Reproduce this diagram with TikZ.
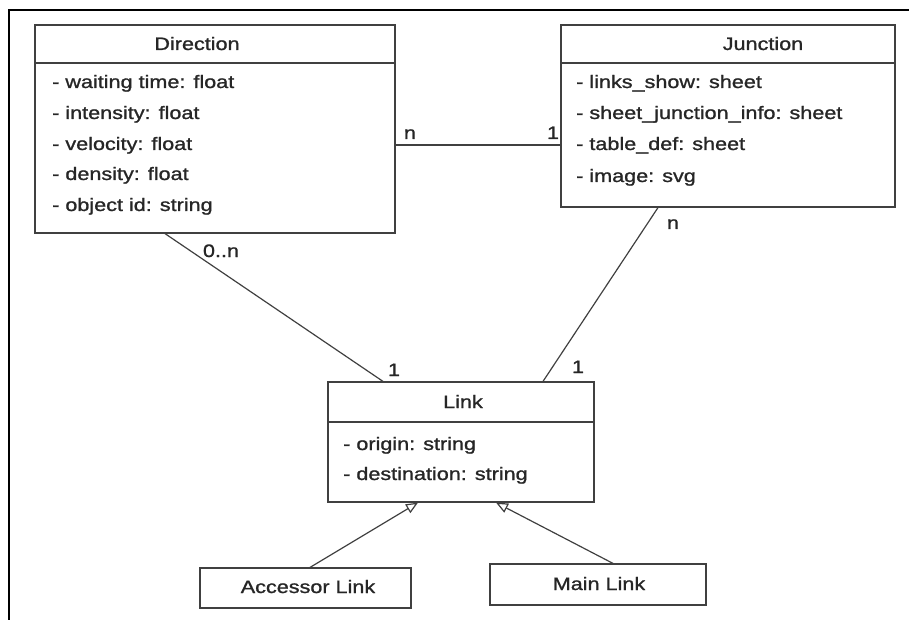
\documentclass[tikz,border=0pt]{standalone}
\usepackage{fontspec}
\setmainfont{Liberation Sans}[FakeStretch=1.2,FakeBold=1.2]
\usetikzlibrary{arrows.meta}

\begin{document}
\begin{tikzpicture}[x=1pt,y=-1pt,
  font=\fontsize{18}{22}\selectfont,text=black!85,
  box/.style={draw=black!75,line width=1.2pt,inner sep=0pt},
  attr/.style={inner sep=0pt,anchor=base west},
  ttl/.style={inner sep=0pt,anchor=base},
  assoc/.style={draw=black!75,line width=1.2pt},
  inherit/.style={assoc,-{Triangle[open,length=12pt,width=10pt]}}]
\useasboundingbox (0,0) rectangle (909,620);
\draw[line width=2pt] (9,620) -- (9,10) -- (909,10);
% classes
\path
(215,129) node[box,minimum width=360pt,minimum height=208pt] (dir) {}
(728,116) node[box,minimum width=334pt,minimum height=182pt] (junc) {}
(461,442) node[box,minimum width=266pt,minimum height=120pt] (link) {}
(305.5,588) node[box,minimum width=211pt,minimum height=40pt] (acc) {}
(598,584.5) node[box,minimum width=216pt,minimum height=41pt] (main) {};
\draw[assoc] (dir.west |- 0,63) -- (dir.east |- 0,63);
\draw[assoc] (junc.west |- 0,63) -- (junc.east |- 0,63);
\draw[assoc] (link.west |- 0,422) -- (link.east |- 0,422);
% texts
\path
(197,50) node[ttl] (dirT) {Direction}
(52,88) node[attr] (d1) {- waiting time: float}
(52,119) node[attr] (d2) {- intensity: float}
(52,150) node[attr] (d3) {- velocity: float}
(52,180) node[attr] (d4) {- density: float}
(52,211) node[attr] (d5) {- object id: string}
(763,50) node[ttl] (juncT) {Junction}
(576,88) node[attr] (j1) {- links\_show: sheet}
(576,119) node[attr] (j2) {- sheet\_junction\_info: sheet}
(576,150) node[attr] (j3) {- table\_def: sheet}
(576,182) node[attr] (j4) {- image: svg}
(463,408) node[ttl] (linkT) {Link}
(343,450) node[attr] (l1) {- origin: string}
(343,480) node[attr] (l2) {- destination: string}
(308,593) node[ttl] (accT) {Accessor Link}
(599,590) node[ttl] (mainT) {Main Link};
% associations
\draw[assoc] (dir.east |- 0,145) -- (junc.west |- 0,145);
\draw[assoc] (dir.south -| 165,0) -- (link.north -| 383,0);
\draw[assoc] (junc.south -| 658,0) -- (link.north -| 543,0);
%\draw[assoc] (dir) -- (link);
\draw[inherit] (acc.north -| 310,0) -- (link.south -| 418,0);
\draw[inherit] (main.north -| 613,0) -- (link.south -| 496,0);
% multiplicities
\path
(410,139) node[ttl] (m1) {n}
(553,139) node[ttl] (m2) {1}
(221,257) node[ttl] (m3) {0..n}
(394,376) node[ttl] (m4) {1}
(673,229) node[ttl] (m5) {n}
(578,373) node[ttl] (m6) {1};
\end{tikzpicture}
\end{document}
